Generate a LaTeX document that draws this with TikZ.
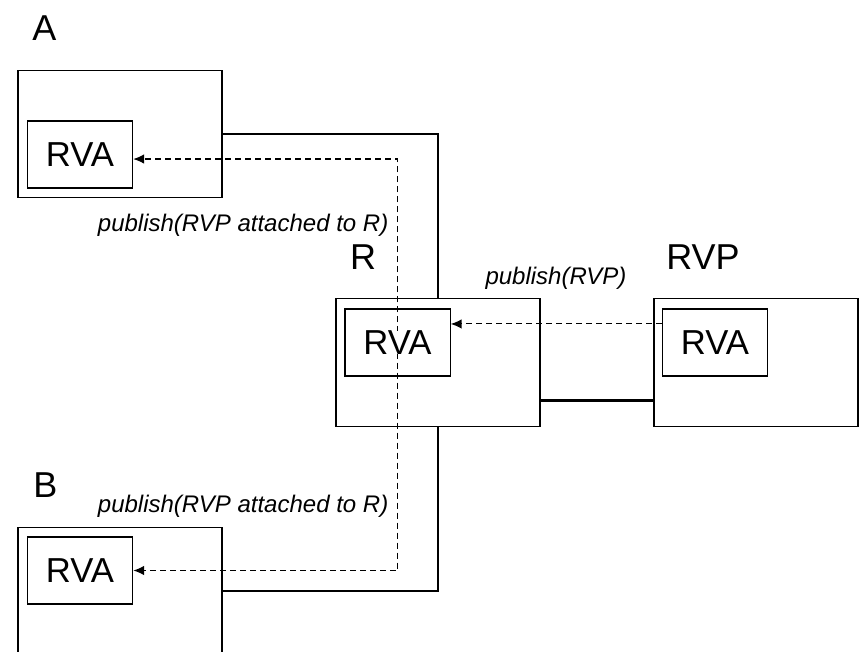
\documentclass[tikz,border=0pt]{standalone}
\usepackage{fontspec}
\setmainfont{Liberation Sans}
\usetikzlibrary{arrows.meta,backgrounds}

\begin{document}
\begin{tikzpicture}[x=0.75pt,y=-0.75pt,line width=1pt,
  host/.style={draw,minimum width=153pt,minimum height=95.5pt,inner sep=0pt},
  rva/.style={draw,minimum width=79pt,minimum height=50.25pt,inner sep=0pt,font=\fontsize{26}{30}\selectfont},
  tag/.style={anchor=base,inner sep=0pt,font=\fontsize{27}{32}\selectfont},
  note/.style={inner sep=0pt,font=\fontsize{18}{22}\selectfont\itshape},
  pub/.style={dashed,dash pattern=on 4.5pt off 3pt,line width=.8pt,-{Latex[length=8pt,width=7pt]}}]
\useasboundingbox (0,0) rectangle (864,652);
\node[host] (boxA) at (120,134) {};
\node[host] (boxB) at (120,591) {};
\node[host] (boxR) at (438,362.5) {};
\node[host] (boxP) at (756,362.5) {};
\node[rva] (rvaA) at (80,154.5) {RVA};
\node[rva] (rvaB) at (80,570.5) {RVA};
\node[rva] (rvaR) at (397.5,342.5) {};
\node[rva,draw=none,minimum width=0pt,minimum height=0pt,fill=white] (txtR) at (rvaR) {RVA};
\node[rva] (rvaP) at (715,342.5) {RVA};
\node[tag] (labA) at (44.5,41) {A};
\node[tag] (labB) at (45.5,497) {B};
\node[tag] (labR) at (363,270) {R};
\node[tag] (labP) at (703,270) {RVP};
\node[note,anchor=base east] (pubA) at (389,232) {publish(RVP attached to R)};
\node[note,anchor=base east] (pubB) at (389,512) {publish(RVP attached to R)};
\node[note,anchor=base] (pubP) at (556,285) {publish(RVP)};
\draw (boxA.east) -| (boxR.north);
\draw (boxB.east) -| (boxR.south);
\draw[line width=2.2pt] ([yshift=19.5pt]boxR.south east) -- ([yshift=19.5pt]boxP.south west);
\draw[pub] ([yshift=13.9pt]rvaP.west) -- ([yshift=13.9pt]rvaR.east);
\begin{scope}[on background layer]
\draw[pub] (rvaR.center) |- ([yshift=-3.4pt]rvaA.east);
\draw[pub] (rvaR.center) |- (rvaB.east);
\end{scope}
\end{tikzpicture}
\end{document}
